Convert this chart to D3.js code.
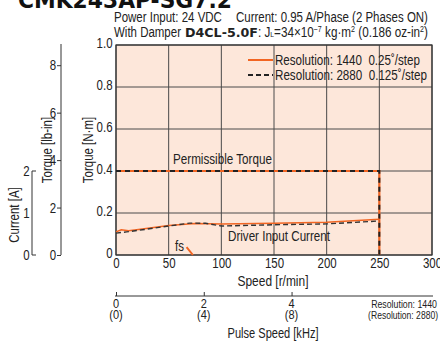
<!DOCTYPE html>
<html><head><meta charset="utf-8">
<script src="https://cdn.jsdelivr.net/npm/d3@7"></script>
<style>
body{margin:0;background:#fff;}
svg{display:block;font-family:"Liberation Sans",Arial,sans-serif;}
text{white-space:pre;}
</style></head>
<body>
<svg id="c" width="440" height="344"></svg>
<script>
// ---- data ----
const speedTicks = [0, 50, 100, 150, 200, 250, 300];
const torqueTicks = [0, 0.2, 0.4, 0.6, 0.8, 1.0];
const lbinTicks = [0, 2, 4, 6, 8];
const currentTicks = [0, 1, 2];
const pulseTicks = [0, 2, 4];
const pulseTicks2880 = [0, 4, 8];
// permissible torque (same for both resolutions)
const permSpeed = [0, 250, 250];
const permTorque = [0.4, 0.4, 0];
// driver input current [A]
const cur1440Speed = [0, 5, 12, 25, 50, 75, 100, 150, 200, 250];
const cur1440 = [0.55, 0.60, 0.58, 0.62, 0.70, 0.75, 0.74, 0.755, 0.78, 0.85];
const cur2880Speed = [0, 10, 25, 50, 70, 85, 100, 150, 200, 250];
const cur2880 = [0.52, 0.55, 0.60, 0.69, 0.76, 0.755, 0.69, 0.72, 0.74, 0.81];
// fs marker
const fsSpeed = [67, 73];
const fsTorque = [0.038, 0];

const svg = d3.select("#c");
const x = d3.scaleLinear().domain([0, 300]).range([116, 432]);
const y = d3.scaleLinear().domain([0, 1]).range([255, 45]);
const yLb = d3.scaleLinear().domain([0, 8.851]).range([255, 45]);
const yA = d3.scaleLinear().domain([0, 5]).range([255, 45]);
const xPulse = d3.scaleLinear().domain([0, 300 * 1440 / 60000]).range([116, 432]);

const SX = 0.82, FS = 14, INK = "#222";
// condensed text helper
function T(px, py, str, o = {}) {
  const size = o.size || FS, anchor = o.anchor || "start", rot = o.rotate || 0;
  const g = svg.append("g").attr("transform", `translate(${px},${py}) rotate(${rot})`);
  const t = g.append("text").attr("font-size", size).attr("text-anchor", anchor).attr("fill", o.fill || INK)
    .attr("font-family", o.family || null).attr("font-weight", o.weight || null).text(str);
  let sx = o.sx || SX;
  if (o.width) sx = o.width / t.node().getComputedTextLength();
  t.attr("transform", `scale(${sx},1)`);
  return t;
}

// title (cut off at top)
T(18, 8, "CMK243AP-SG7.2", { family: "DejaVu Sans", weight: "bold", size: 23, width: 214, fill: "#111" });

// header
T(114, 22, "Power Input: 24 VDC", { size: 14, width: 108 });
T(236, 22, "Current: 0.95 A/Phase (2 Phases ON)", { size: 14, width: 192 });
T(114, 36.5, "With Damper", { size: 14, width: 67 });
T(185, 36.5, "D4CL-5.0F", { size: 13, family: "DejaVu Sans", weight: "bold", width: 73 });
const h2 = T(258, 36.5, "", { size: 14, sx: 1 });
h2.append("tspan").text(": J");
h2.append("tspan").attr("font-size", 8).text("L");
h2.append("tspan").text("=34×10");
h2.append("tspan").attr("font-size", 8.5).attr("dy", -5).text("−7");
h2.append("tspan").attr("dy", 5).text(" kg·m");
h2.append("tspan").attr("font-size", 8.5).attr("dy", -5).text("2");
h2.append("tspan").attr("dy", 5).text(" (0.186 oz-in");
h2.append("tspan").attr("font-size", 8.5).attr("dy", -5).text("2");
h2.append("tspan").attr("dy", 5).text(")");
h2.attr("transform", `scale(${170 / h2.node().getComputedTextLength()},1)`);

// plot background
svg.append("rect").attr("x", x(0)).attr("y", y(1)).attr("width", x(300) - x(0)).attr("height", y(0) - y(1))
  .attr("fill", "#fde7da");
// grid
const g = svg.append("g").attr("stroke", "#4a4a4a").attr("stroke-width", 1);
speedTicks.forEach(v => g.append("line").attr("x1", x(v)).attr("x2", x(v)).attr("y1", y(0)).attr("y2", y(1)));
torqueTicks.forEach(v => g.append("line").attr("x1", x(0)).attr("x2", x(300)).attr("y1", y(v)).attr("y2", y(v)));
svg.append("rect").attr("x", x(0)).attr("y", y(1)).attr("width", x(300) - x(0)).attr("height", y(0) - y(1))
  .attr("fill", "none").attr("stroke", "#333").attr("stroke-width", 1.2);

function styleTicks(sel) {
  sel.selectAll("text").attr("font-size", FS).attr("font-family", null).attr("fill", INK)
    .attr("transform", `scale(${SX},1)`);
}
// axes
const axN = svg.append("g").attr("transform", `translate(${x(0) - 1},-2)`)
  .call(d3.axisLeft(y).tickValues(torqueTicks).tickSize(0).tickPadding(3).tickFormat(d => d === 0 ? "0" : d3.format(".1f")(d)));
axN.select(".domain").remove();
styleTicks(axN);

const axX = svg.append("g").attr("transform", `translate(0,${y(0)})`)
  .call(d3.axisBottom(x).tickValues(speedTicks).tickSize(0).tickPadding(3));
axX.select(".domain").remove();
styleTicks(axX);

const axLb = svg.append("g").attr("transform", `translate(61,0)`)
  .call(d3.axisLeft(yLb).tickValues(lbinTicks).tickSize(4).tickPadding(2));
axLb.select(".domain").attr("d", `M0,${y(1) - 1}V${y(0)}`).attr("stroke", "#333");
axLb.selectAll("line").attr("stroke", "#333");
styleTicks(axLb);

const axA = svg.append("g").attr("transform", `translate(32,0)`)
  .call(d3.axisLeft(yA).tickValues(currentTicks).tickSize(0).tickPadding(3).tickFormat(d3.format("d")));
axA.select(".domain").attr("d", `M4,${yA(2)}H0V${yA(0)}H4`).attr("stroke", "#333");
styleTicks(axA);

// pulse axis
const axP = svg.append("g").attr("transform", `translate(0,296)`)
  .call(d3.axisTop(xPulse).tickValues(pulseTicks).tickSize(4).tickFormat(""));
axP.select(".domain").attr("d", `M${xPulse(0) - 1},0H433`).attr("stroke", "#333");
axP.selectAll("line").attr("stroke", "#333");
pulseTicks.forEach((v, i) => {
  T(xPulse(v), 308, String(v), { size: 12.5, anchor: "middle", sx: 0.88 });
  T(xPulse(v), 319, `(${pulseTicks2880[i]})`, { size: 12.5, anchor: "middle", sx: 0.88 });
});
T(437, 308, "Resolution: 1440", { size: 11, anchor: "end", width: 66 });
T(438, 319, "(Resolution: 2880)", { size: 11, anchor: "end", width: 70 });

// axis titles
T(273, 286, "Speed [r/min]", { anchor: "middle", width: 71 });
T(273, 338, "Pulse Speed [kHz]", { anchor: "middle", width: 91 });
T(93, 150, "Torque [N·m]", { anchor: "middle", rotate: -90 });
T(52, 150, "Torque [lb-in]", { anchor: "middle", rotate: -90 });
T(19, 215, "Current [A]", { anchor: "middle", rotate: -90 });

// lines
const line = d3.line();
const orange = "#f26522";
const perm = permSpeed.map((s, i) => [x(s), y(permTorque[i])]);
svg.append("path").attr("d", line(perm)).attr("fill", "none").attr("stroke", orange).attr("stroke-width", 2.2);
svg.append("path").attr("d", line(perm)).attr("fill", "none").attr("stroke", "#222").attr("stroke-width", 2).attr("stroke-dasharray", "5,4");

svg.append("path").attr("d", line(cur1440Speed.map((s, i) => [x(s), yA(cur1440[i])])))
  .attr("fill", "none").attr("stroke", orange).attr("stroke-width", 1.5);
svg.append("path").attr("d", line(cur2880Speed.map((s, i) => [x(s), yA(cur2880[i])])))
  .attr("fill", "none").attr("stroke", "#333").attr("stroke-width", 1.4).attr("stroke-dasharray", "5,3");

svg.append("path").attr("d", line(fsSpeed.map((s, i) => [x(s), y(fsTorque[i])])))
  .attr("fill", "none").attr("stroke", orange).attr("stroke-width", 2);

// annotations
T(173, 164, "Permissible Torque", { width: 99 });
T(228, 241, "Driver Input Current", { width: 102 });
T(175, 251, "fs", {});

// legend
const lg = svg.append("g");
lg.append("line").attr("x1", 248).attr("x2", 273).attr("y1", 60).attr("y2", 60).attr("stroke", orange).attr("stroke-width", 2);
lg.append("line").attr("x1", 248).attr("x2", 273).attr("y1", 75).attr("y2", 75).attr("stroke", "#222").attr("stroke-width", 2).attr("stroke-dasharray", "5,3");
T(275, 65, "Resolution: 1440  0.25˚/step", { width: 145 });
T(275, 80, "Resolution: 2880  0.125˚/step", { width: 152 });
</script>
</body></html>
